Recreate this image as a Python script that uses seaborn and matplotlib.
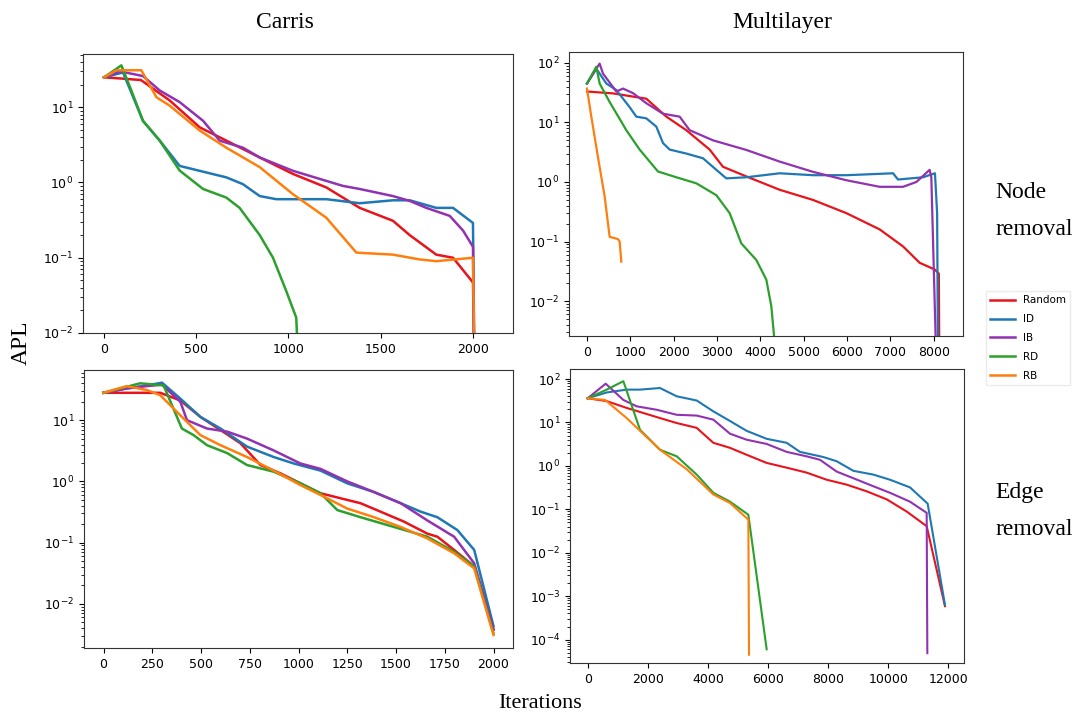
import numpy as np
import pandas as pd
import matplotlib.pyplot as plt
import seaborn as sns
from matplotlib.lines import Line2D

methods = ["Random", "ID", "IB", "RD", "RB"]
colors = ["#e8141c", "#1f77b4", "#9132b0", "#2ca02c", "#ff7f0e"]

# Carris - node removal (iteration, APL)
carris_node_random = [(0, 25), (100, 24), (200, 23), (356, 12.3), (519, 5.4), (663, 3.6), (844, 2.15),
                      (1024, 1.3), (1205, 0.86), (1386, 0.46), (1566, 0.31), (1657, 0.2), (1801, 0.11),
                      (1892, 0.1), (2000, 0.047), (2008, 0.004)]
carris_node_id = [(0, 25), (103, 29), (211, 6.6), (302, 3.6), (410, 1.66), (663, 1.17), (753, 0.95),
                  (844, 0.66), (934, 0.6), (1205, 0.6), (1386, 0.53), (1566, 0.58), (1657, 0.58),
                  (1801, 0.46), (1892, 0.46), (2000, 0.29), (2008, 0.004)]
carris_node_ib = [(0, 25), (85, 30), (211, 26), (302, 16.7), (410, 11.7), (537, 6.6), (627, 3.6),
                  (753, 2.9), (844, 2.15), (1024, 1.43), (1205, 1.05), (1296, 0.9), (1386, 0.82),
                  (1566, 0.66), (1657, 0.57), (1747, 0.46), (1874, 0.36), (1946, 0.23), (2000, 0.14),
                  (2006, 0.004)]
carris_node_rd = [(0, 25), (94, 36), (148, 16.7), (211, 6.6), (302, 3.6), (410, 1.44), (537, 0.82),
                  (663, 0.63), (735, 0.46), (844, 0.2), (916, 0.1), (988, 0.036), (1042, 0.016),
                  (1051, 0.005)]
carris_node_rb = [(0, 25), (67, 31), (202, 31), (284, 13.6), (356, 10.5), (519, 4.9), (663, 2.9),
                  (844, 1.6), (1024, 0.7), (1205, 0.34), (1368, 0.117), (1566, 0.11), (1711, 0.095),
                  (1801, 0.09), (2000, 0.1), (2008, 0.004)]

# Multilayer - node removal
multi_node_random = [(0, 33), (600, 30.7), (1369, 25), (1831, 12.5), (2292, 7.4), (2831, 3.5),
                     (3138, 1.8), (3677, 1.24), (4446, 0.74), (5215, 0.5), (5985, 0.3), (6754, 0.16),
                     (7292, 0.083), (7677, 0.044), (8023, 0.034), (8120, 0.029), (8130, 0.001)]
multi_node_id = [(0, 45), (215, 80), (446, 45), (677, 35), (985, 18), (1138, 12.5), (1369, 11.7),
                 (1600, 8.5), (1754, 4.5), (1908, 3.5), (2292, 3.0), (2677, 2.5), (2985, 1.6),
                 (3215, 1.15), (3677, 1.2), (4446, 1.4), (5215, 1.3), (5985, 1.3), (7062, 1.4),
                 (7177, 1.1), (7754, 1.2), (8030, 1.4), (8080, 0.3), (8100, 0.001)]
multi_node_ib = [(0, 45), (292, 97), (369, 66), (677, 33), (831, 37), (1062, 31), (1369, 21),
                 (1754, 14), (2138, 12.5), (2369, 7.4), (2908, 5.0), (3677, 3.45), (4446, 2.2),
                 (5215, 1.48), (5985, 1.07), (6754, 0.83), (7292, 0.83), (7600, 1.0), (7908, 1.6),
                 (7946, 1.2), (8060, 0.001)]
multi_node_rd = [(0, 45), (215, 86), (292, 45), (523, 22), (908, 7.4), (1215, 3.5), (1638, 1.5),
                 (2062, 1.2), (2523, 0.95), (2985, 0.6), (3292, 0.3), (3562, 0.093), (3908, 0.049),
                 (4138, 0.023), (4254, 0.0082), (4331, 0.002)]
multi_node_rb = [(0, 37), (100, 12.5), (254, 2.6), (408, 0.57), (523, 0.12), (715, 0.11), (754, 0.1),
                 (792, 0.046)]

# Carris - edge removal
carris_edge_random = [(0, 28), (51, 28), (291, 28), (394, 21), (497, 11.3), (600, 6.9), (702, 4.2),
                      (805, 1.85), (908, 1.35), (1010, 0.93), (1113, 0.64), (1216, 0.53), (1318, 0.44),
                      (1421, 0.32), (1541, 0.22), (1661, 0.14), (1712, 0.125), (1798, 0.076),
                      (1901, 0.041), (2000, 0.0038)]
carris_edge_id = [(0, 28), (120, 33), (223, 37), (300, 41), (394, 22.5), (497, 11.3), (600, 7.3),
                  (736, 3.7), (873, 2.5), (976, 1.96), (1113, 1.5), (1250, 0.93), (1387, 0.67),
                  (1524, 0.44), (1627, 0.32), (1712, 0.26), (1815, 0.16), (1901, 0.076), (2000, 0.0043)]
carris_edge_ib = [(0, 28), (120, 33), (223, 36), (300, 38), (394, 20), (428, 10), (531, 7.3),
                  (634, 6.5), (736, 5.0), (873, 3.2), (1010, 1.96), (1113, 1.6), (1250, 1.0),
                  (1387, 0.67), (1524, 0.44), (1661, 0.23), (1798, 0.125), (1901, 0.046), (2000, 0.0038)]
carris_edge_rd = [(0, 28), (188, 40), (308, 37), (402, 7.3), (462, 5.7), (531, 3.9), (634, 2.9),
                  (736, 1.85), (873, 1.44), (1010, 0.93), (1113, 0.64), (1199, 0.34), (1318, 0.26),
                  (1490, 0.18), (1661, 0.125), (1798, 0.071), (1901, 0.041), (2000, 0.0033)]
carris_edge_rb = [(0, 28), (120, 36), (223, 31), (291, 25.6), (394, 12), (497, 5.7), (600, 3.9),
                  (736, 2.5), (873, 1.5), (1010, 0.87), (1113, 0.6), (1250, 0.36), (1387, 0.26),
                  (1524, 0.18), (1661, 0.117), (1798, 0.067), (1901, 0.038), (2000, 0.0031)]

# Multilayer - edge removal
multi_edge_random = [(0, 36), (632, 31), (1298, 21.6), (2407, 12.6), (2962, 9.7), (3627, 7.5),
                     (4181, 3.4), (4736, 2.6), (5291, 1.8), (5955, 1.17), (6621, 0.91), (7286, 0.7),
                     (7952, 0.48), (8617, 0.37), (9282, 0.26), (9948, 0.17), (10613, 0.089),
                     (11279, 0.041), (11888, 0.00059)]
multi_edge_id = [(0, 36), (632, 49), (1298, 57), (1741, 57), (2407, 62), (2962, 40), (3627, 32),
                 (4181, 18), (4736, 10.8), (5291, 6.4), (5955, 4.2), (6621, 3.4), (7064, 2.1),
                 (7840, 1.6), (8284, 1.28), (8839, 0.77), (9504, 0.63), (10059, 0.48), (10724, 0.32),
                 (11312, 0.135), (11888, 0.00063)]
multi_edge_ib = [(0, 36), (599, 78), (1187, 33), (1630, 23.5), (2296, 19.6), (2962, 15), (3627, 14.4),
                 (4181, 11.6), (4736, 5.5), (5291, 4.0), (5955, 3.2), (6621, 2.1), (7286, 1.66),
                 (7730, 1.38), (8284, 0.74), (8839, 0.52), (9504, 0.34), (10059, 0.24), (10724, 0.15),
                 (11279, 0.083), (11301, 0.000049)]
multi_edge_rd = [(0, 36), (632, 57), (1187, 89), (1741, 6.8), (2407, 2.35), (2962, 1.66), (3627, 0.63),
                 (4181, 0.24), (4736, 0.15), (5346, 0.075), (5955, 0.00006)]
multi_edge_rb = [(0, 36), (577, 33), (1298, 12.6), (2407, 2.35), (3294, 0.84), (4181, 0.22),
                 (4736, 0.14), (5346, 0.058), (5368, 0.000045)]


def to_frame(series):
    rows = []
    for name, pts in zip(methods, series):
        for x, y in pts:
            rows.append({"Iteration": x, "APL": y, "Method": name})
    return pd.DataFrame(rows)


panels = [
    ([carris_node_random, carris_node_id, carris_node_ib, carris_node_rd, carris_node_rb],
     [83, 54, 430, 279], (-114, 2217), (0.01, 51), np.arange(0, 2001, 500), 1.8),
    ([multi_node_random, multi_node_id, multi_node_ib, multi_node_rd, multi_node_rb],
     [569, 52, 394, 284], (-415, 8677), (0.0026, 152), np.arange(0, 8001, 1000), 1.6),
    ([carris_edge_random, carris_edge_id, carris_edge_ib, carris_edge_rd, carris_edge_rb],
     [84, 370, 429, 278], (-100, 2100), (0.0019, 66), np.arange(0, 2001, 250), 1.8),
    ([multi_edge_random, multi_edge_id, multi_edge_ib, multi_edge_rd, multi_edge_rb],
     [570, 369, 394, 294], (-588, 12521), (2.9e-5, 170), np.arange(0, 12001, 2000), 1.5),
]

W, H = 1076, 726
fig = plt.figure(figsize=(W / 100, H / 100), dpi=100)
pal = dict(zip(methods, colors))

for series, (px, py, pw, ph), xl, yl, xt, lw in panels:
    ax = fig.add_axes([px / W, 1 - (py + ph) / H, pw / W, ph / H])
    df = to_frame(series)
    sns.lineplot(data=df, x="Iteration", y="APL", hue="Method", palette=pal,
                 estimator=None, sort=False, legend=False, linewidth=lw, ax=ax)
    ax.set_yscale("log")
    ax.set_xlim(*xl)
    ax.set_ylim(*yl)
    ax.set_xticks(xt)
    ax.set_xlabel("")
    ax.set_ylabel("")
    ax.tick_params(labelsize=9)
    for s in ax.spines.values():
        s.set_color("#333333")

serif = "Liberation Serif"
fs = 17


def ftext(x, y, s, size=fs, **kw):
    fig.text(x / W, 1 - y / H, s, family=serif, fontsize=size, **kw)


ftext(285, 28, "Carris", ha="center", va="baseline")
ftext(782, 28, "Multilayer", ha="center", va="baseline")
ftext(995, 198, "Node", ha="left", va="baseline")
ftext(995, 235, "removal", ha="left", va="baseline")
ftext(995, 498, "Edge", ha="left", va="baseline")
ftext(995, 535, "removal", ha="left", va="baseline")
ftext(21, 343, "APL", ha="center", va="center", rotation=90)
ftext(540, 704, "Iterations", size=16, ha="center", va="center")

handles = [Line2D([0], [0], color=c, lw=1.8) for c in colors]
fig.legend(handles, methods, loc="center", bbox_to_anchor=(1028 / W, 1 - 338 / H),
           fontsize=7.5, frameon=True, handlelength=2.4, labelspacing=0.85,
           edgecolor="#e6e6e6", fancybox=False)

fig.savefig("out.png", dpi=100)
